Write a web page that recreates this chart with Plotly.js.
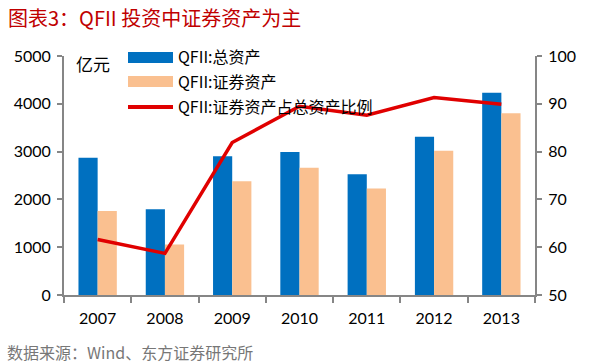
<!DOCTYPE html>
<html><head><meta charset="utf-8">
<script src="https://cdn.plot.ly/plotly-3.0.1.min.js"></script>
<style>html,body{margin:0;padding:0;background:#fff}#c{width:591px;height:364px}</style>
</head><body><div id="c"></div>
<script>
const years = ['2007','2008','2009','2010','2011','2012','2013'];
const totalAssets = [2870, 1792, 2905, 2990, 2527, 3311, 4229];
const securitiesAssets = [1756, 1057, 2380, 2660, 2227, 3017, 3803];
const securitiesRatio = [61.6, 58.7, 81.9, 89.5, 87.6, 91.3, 89.9];
const leftTicks = [0, 1000, 2000, 3000, 4000, 5000];
const rightTicks = [50, 60, 70, 80, 90, 100];
const seriesNames = ['QFII:总资产', 'QFII:证券资产', 'QFII:证券资产占总资产比例'];

const font = 'Lato, "Noto Sans CJK SC", sans-serif';
const cjk = '"Noto Sans CJK SC", sans-serif';

const traces = [
  {type:'bar', x:years, y:totalAssets, name:seriesNames[0], marker:{color:'#0070C0'}, yaxis:'y'},
  {type:'bar', x:years, y:securitiesAssets, name:seriesNames[1], marker:{color:'#FAC090'}, yaxis:'y'},
  {type:'scatter', mode:'lines', x:years, y:securitiesRatio, name:seriesNames[2], line:{color:'#E00000', width:3.5}, yaxis:'y2'}
];

const L = 64, R = 535, T = 56, B = 295;
const px = v => (v - L) / (R - L);
const py = v => (B - v) / (B - T);
const axisCommon = {showline:true, linecolor:'#868686', linewidth:2, ticks:'outside', tickcolor:'#868686', tickwidth:2, showgrid:false, zeroline:false, tickfont:{size:16, family:font}};
const layout = {
  width:591, height:364,
  margin:{l:L, r:591-R, t:T, b:364-B, pad:0},
  paper_bgcolor:'#fff', plot_bgcolor:'#fff',
  showlegend:false,
  barmode:'group', bargap:0.43, bargroupgap:0,
  font:{family:font, size:16, color:'#000'},
  xaxis:Object.assign({}, axisCommon, {type:'category', tickson:'boundaries', ticklen:6, ticklabelstandoff:8}),
  yaxis:Object.assign({}, axisCommon, {range:[0,5000], tickvals:leftTicks, ticklen:5, ticklabelstandoff:3}),
  yaxis2:Object.assign({}, axisCommon, {range:[50,100], tickvals:rightTicks, overlaying:'y', side:'right', ticklen:5, ticklabelstandoff:3}),
  shapes:[
    {type:'rect', xref:'paper', yref:'paper', x0:px(128), x1:px(173), y0:py(63), y1:py(52), fillcolor:'#0070C0', line:{width:0}},
    {type:'rect', xref:'paper', yref:'paper', x0:px(128), x1:px(173), y0:py(87), y1:py(76), fillcolor:'#FAC090', line:{width:0}},
    {type:'line', xref:'paper', yref:'paper', x0:px(128), x1:px(173), y0:py(107), y1:py(107), line:{color:'#E00000', width:4}}
  ],
  annotations:[
    {xref:'paper', yref:'paper', x:px(6), y:py(18), xanchor:'left', yanchor:'middle', showarrow:false, text:'图表3：QFII 投资中证券资产为主', font:{family:cjk, size:20, color:'#C00000', weight:'normal'}},
    {xref:'paper', yref:'paper', x:px(74), y:py(63), xanchor:'left', yanchor:'middle', showarrow:false, text:'亿元', font:{family:cjk, size:17, color:'#000'}},
    {xref:'paper', yref:'paper', x:px(176), y:py(56), xanchor:'left', yanchor:'middle', showarrow:false, text:seriesNames[0], font:{family:cjk, size:16, color:'#000'}},
    {xref:'paper', yref:'paper', x:px(176), y:py(81), xanchor:'left', yanchor:'middle', showarrow:false, text:seriesNames[1], font:{family:cjk, size:16, color:'#000'}},
    {xref:'paper', yref:'paper', x:px(176), y:py(106), xanchor:'left', yanchor:'middle', showarrow:false, text:seriesNames[2], font:{family:cjk, size:16, color:'#000'}},
    {xref:'paper', yref:'paper', x:px(5), y:py(352), xanchor:'left', yanchor:'middle', showarrow:false, text:'数据来源：Wind、东方证券研究所', font:{family:cjk, size:16, color:'#777'}}
  ]
};
Plotly.newPlot('c', traces, layout, {displayModeBar:false, staticPlot:true});
</script></body></html>
